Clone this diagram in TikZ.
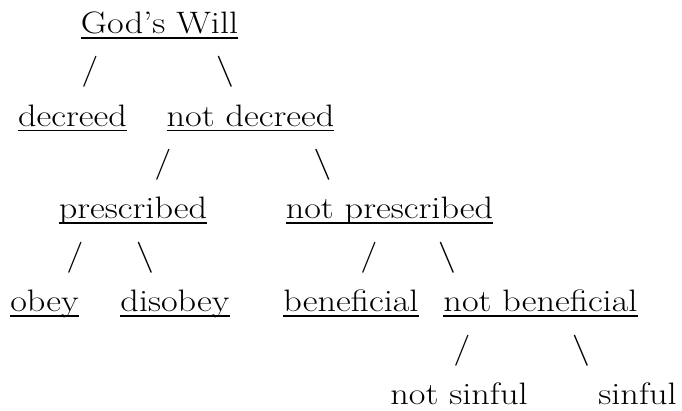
\documentclass[tikz,border=0pt]{standalone}
\usepackage{fontspec}
\setmainfont{Latin Modern Roman}[FakeStretch=1.17]
\begin{document}
\begin{tikzpicture}[x=1pt,y=-1pt,
  word/.style={inner sep=0pt, outer sep=0pt, anchor=base, font=\fontsize{31}{37}\selectfont},
  uline/.style={line width=1.7pt}]
\useasboundingbox[fill=white] (0,0) rectangle (682,410);
\def\ul#1{\draw[uline] ([yshift=-4.4pt]#1.base west) -- ([yshift=-4.4pt]#1.base east);}
% row 0
\node[word] (god) at (159.5,33.3) {God’s Will};
% row 1
\node[word] (s1a) at (90,79.7) {/};
\node[word] (s1b) at (225,79.7) {\textbackslash};
% row 2
\node[word] (dec) at (72.5,126.1) {decreed};
\node[word] (ndec) at (250.5,126.1) {not decreed};
% row 3
\node[word] (s3a) at (163,172.5) {/};
\node[word] (s3b) at (322.5,172.5) {\textbackslash};
% row 4
\node[word] (pre) at (133,218.9) {prescribed};
\node[word] (npre) at (389.5,218.9) {not prescribed};
% row 5
\node[word] (s5a) at (75,265.3) {/};
\node[word] (s5b) at (145,265.3) {\textbackslash};
\node[word] (s5c) at (369,265.3) {/};
\node[word] (s5d) at (447,265.3) {\textbackslash};
% row 6
\node[word] (obey) at (44.5,311.7) {obey};
\node[word] (dis) at (175,311.7) {disobey};
\node[word] (ben) at (351,311.7) {beneficial};
\node[word] (nben) at (540.5,311.7) {not beneficial};
% row 7
\node[word] (s7a) at (462,358.1) {/};
\node[word] (s7b) at (581,358.1) {\textbackslash};
% row 8
\node[word] (nsin) at (459,404.0) {not sinful};
\node[word] (sin) at (637.5,404.0) {sinful};
% underlines
\ul{god}\ul{dec}\ul{ndec}\ul{pre}\ul{npre}\ul{obey}\ul{dis}\ul{ben}\ul{nben}
\end{tikzpicture}
\end{document}
